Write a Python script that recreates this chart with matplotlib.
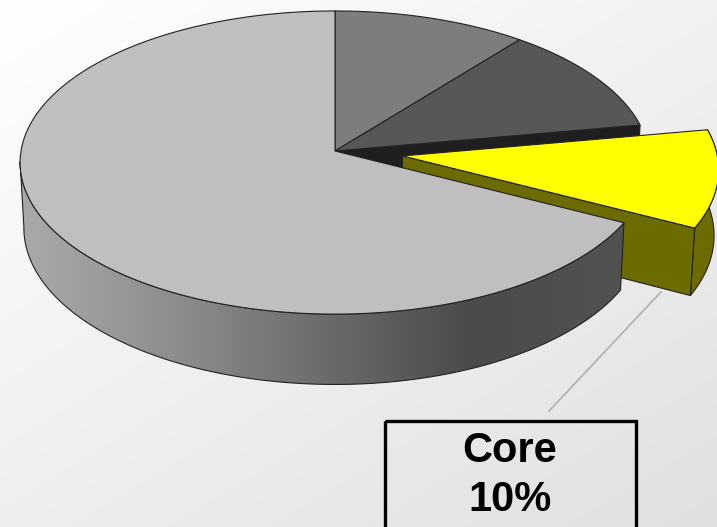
import numpy as np
import matplotlib
matplotlib.use('Agg')
import matplotlib.pyplot as plt
from matplotlib.colors import LinearSegmentedColormap
from matplotlib.patches import Polygon, Rectangle

plt.rcParams['font.family'] = ['Liberation Sans', 'DejaVu Sans']

# shares, clockwise from 12 o'clock
names = ['a', 'b', 'Core', 'rest']
shares = [10.7, 11.5, 10.4, 67.4]
label_name = 'Core'
label_value = '10%'

# pie geometry in pixels
cx, cy = 335, 151
rx, ry = 314, 150.7
persp = 0.076
depth = 65
shrink = 0.988
core_shift = 0.217


def project(u, v):
    w = 1 + persp * v
    return cx + rx * u / w, cy - ry * v / w


def top_arc(t0, t1, shift=0.0, mid=0.0):
    t = np.radians(np.linspace(t0, t1, 200))
    su, sv = shift * np.sin(mid), shift * np.cos(mid)
    return np.sin(t) + su, np.cos(t) + sv, su, sv


def lower(u, v):
    x, y = project(u, v)
    w = 1 + persp * np.asarray(v)
    return cx + (x - cx) * shrink, y + depth / w


def top_face(t0, t1, color, shift=0.0, mid=0.0):
    u, v, su, sv = top_arc(t0, t1, shift, mid)
    x, y = project(np.r_[su, u], np.r_[sv, v])
    ax.add_patch(Polygon(np.c_[x, y], closed=True, fc=color, ec='#222222', lw=0.8, zorder=zo()))


def rim_points(t0, t1, shift=0.0, mid=0.0):
    u, v, _, _ = top_arc(t0, t1, shift, mid)
    x, y = project(u, v)
    xl, yl = lower(u, v)
    return np.r_[x, xl[::-1]], np.r_[y, yl[::-1]]


def wall(t, color, shift=0.0, mid=0.0):
    u, v, su, sv = top_arc(t, t, shift, mid)
    u, v = np.array([su, u[0]]), np.array([sv, v[0]])
    x, y = project(u, v)
    xl, yl = lower(u, v)
    ax.add_patch(Polygon(np.c_[np.r_[x, xl[::-1]], np.r_[y, yl[::-1]]], closed=True,
                         fc=color, ec='#222222', lw=0.8, zorder=zo()))


counter = [2]


def zo():
    counter[0] += 1
    return counter[0]


fig = plt.figure(figsize=(7.17, 5.27), dpi=100)
ax = fig.add_axes([0, 0, 1, 1])
ax.set_xlim(0, 717)
ax.set_ylim(527, 0)
ax.axis('off')

# background gradient
gx, gy = np.meshgrid(np.linspace(0, 1, 200), np.linspace(0, 1, 200))
bg = 0.45 * gx + 0.55 * gy
bg_cmap = LinearSegmentedColormap.from_list('bg', ['#ffffff', '#f0f0f0', '#e0e0e0'])
ax.imshow(bg, extent=(0, 717, 527, 0), cmap=bg_cmap, vmin=0, vmax=1, aspect='auto', zorder=0)

edges = np.r_[0, np.cumsum(shares)] * 3.6
core_mid = np.radians((edges[2] + edges[3]) / 2)

# back slices
top_face(edges[0], edges[1], '#7d7d7d')
wall(edges[2], '#1f1f1f')
top_face(edges[1], edges[2], '#575757')

# exploded slice
x, y = rim_points(edges[2], edges[3], core_shift, core_mid)
ax.add_patch(Polygon(np.c_[x, y], closed=True, fc='#6b6b00', ec='#222222', lw=0.8, zorder=zo()))
wall(edges[3], '#6b6b00', core_shift, core_mid)
top_face(edges[2], edges[3], '#ffff00', core_shift, core_mid)

# big slice, side has a left to right gradient
x, y = rim_points(edges[3], 266)
rim = Polygon(np.c_[x, y], closed=True, fc='none', ec='#222222', lw=0.8, zorder=zo())
rim_cmap = LinearSegmentedColormap.from_list(
    'rim', ['#aaaaaa', '#8e8e8e', '#6c6c6c', '#4a4a4a', '#525252'])
grad = ax.imshow(np.linspace(0, 1, 256).reshape(1, -1), extent=(20, 625, 400, 100),
                 cmap=rim_cmap, aspect='auto', zorder=counter[0])
ax.add_patch(rim)
grad.set_clip_path(rim)
top_face(edges[3], edges[4], '#bfbfbf')

# callout
ax.plot([661, 549], [292, 411], color='#b0b0b0', lw=1.2, zorder=zo())
ax.add_patch(Rectangle((385, 421), 251, 140, fc='none', ec='black', lw=2.4, zorder=zo()))
ax.text(510, 451, label_name, fontsize=30, fontweight='bold', ha='center', va='center', zorder=zo())
ax.text(510, 500, label_value, fontsize=30, fontweight='bold', ha='center', va='center', zorder=zo())

ax.set_xlim(0, 717)
ax.set_ylim(527, 0)
fig.savefig('out.png', dpi=100)
